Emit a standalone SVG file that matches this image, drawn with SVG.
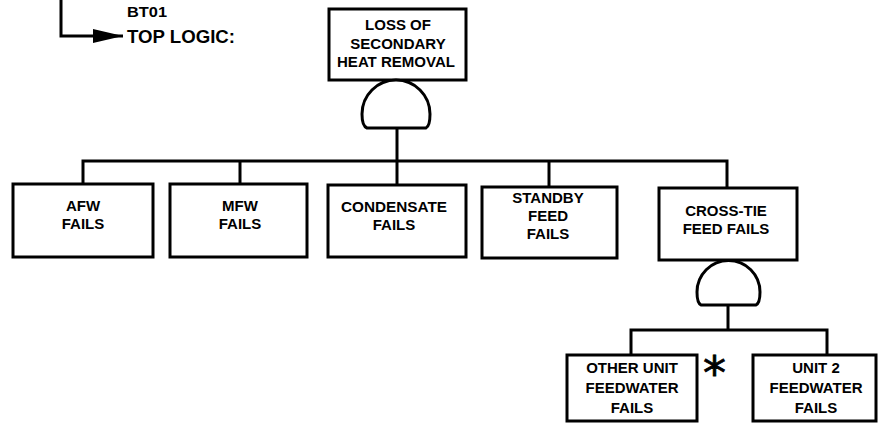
<svg xmlns="http://www.w3.org/2000/svg" width="880" height="425" viewBox="0 0 880 425">
<style>
.box{fill:#fff;stroke:#000;stroke-width:3}
.gate{fill:#fff;stroke:#000;stroke-width:3}
.ln{fill:none;stroke:#000;stroke-width:3}
text{font-family:"Liberation Sans",Arial,sans-serif;font-weight:bold;fill:#000}
.t{font-size:15px;text-anchor:middle}
</style>
<defs>
<marker id="arr" viewBox="0 0 30 14" refX="30" refY="7" markerWidth="30" markerHeight="14" markerUnits="userSpaceOnUse" orient="auto">
<path d="M0,0 L30,7 L0,14 Z" fill="#000"/>
</marker>
</defs>
<g id="connectors">
<path class="ln" d="M61,0 L61,36 L123,36" marker-end="url(#arr)"/>
<path class="ln" d="M397,128 L397,161"/>
<path class="ln" d="M83,184 L83,161 L727,161 L727,188"/>
<path class="ln" d="M240,161 L240,184"/>
<path class="ln" d="M397,161 L397,185"/>
<path class="ln" d="M549,161 L549,187"/>
<path class="ln" d="M728,305 L728,330"/>
<path class="ln" d="M631,355 L631,330 L827,330 L827,355"/>
</g>
<g id="title">
<text x="127" y="17" font-size="15" textLength="40" lengthAdjust="spacingAndGlyphs">BT01</text>
<text x="127" y="43" font-size="18" textLength="108" lengthAdjust="spacingAndGlyphs">TOP LOGIC:</text>
</g>
<g id="top">
<rect class="box" x="329" y="9" width="137" height="71"/>
<text class="t" x="398" y="30">LOSS OF</text>
<text class="t" x="398" y="49">SECONDARY</text>
<text class="t" x="396" y="67" textLength="118" lengthAdjust="spacingAndGlyphs">HEAT REMOVAL</text>
</g>
<g id="gate1">
<path class="gate" d="M367,128 Q362,126 362,114 A34,34 0 0 1 430,114 Q430,126 426,128 Z"/>
</g>
<g id="afw">
<rect class="box" x="13" y="184" width="140" height="73"/>
<text class="t" x="83" y="211">AFW</text>
<text class="t" x="83" y="229">FAILS</text>
</g>
<g id="mfw">
<rect class="box" x="170" y="184" width="137" height="73"/>
<text class="t" x="240" y="211">MFW</text>
<text class="t" x="240" y="229">FAILS</text>
</g>
<g id="condensate">
<rect class="box" x="328" y="185" width="138" height="72"/>
<text class="t" x="394" y="212" textLength="106" lengthAdjust="spacingAndGlyphs">CONDENSATE</text>
<text class="t" x="394" y="230">FAILS</text>
</g>
<g id="standby">
<rect class="box" x="482" y="187" width="135" height="71"/>
<text class="t" x="548" y="203">STANDBY</text>
<text class="t" x="548" y="221">FEED</text>
<text class="t" x="548" y="239">FAILS</text>
</g>
<g id="crosstie">
<rect class="box" x="659" y="188" width="138" height="72"/>
<text class="t" x="726" y="216">CROSS-TIE</text>
<text class="t" x="726" y="234">FEED FAILS</text>
</g>
<g id="gate2">
<path class="gate" d="M701,305 Q697,303 697,292 A31.5,31.5 0 0 1 760,292 Q760,303 756,305 Z"/>
</g>
<g id="otherunit">
<rect class="box" x="567" y="355" width="130" height="66"/>
<text class="t" x="632" y="373">OTHER UNIT</text>
<text class="t" x="632" y="393">FEEDWATER</text>
<text class="t" x="632" y="413">FAILS</text>
<text x="703" y="389" style="font-family:'DejaVu Sans',sans-serif;font-weight:normal;font-size:46px;stroke:#000;stroke-width:0.8">*</text>
</g>
<g id="unit2">
<rect class="box" x="753" y="355" width="123" height="66"/>
<text class="t" x="816" y="373">UNIT 2</text>
<text class="t" x="816" y="393">FEEDWATER</text>
<text class="t" x="816" y="413">FAILS</text>
</g>
</svg>
